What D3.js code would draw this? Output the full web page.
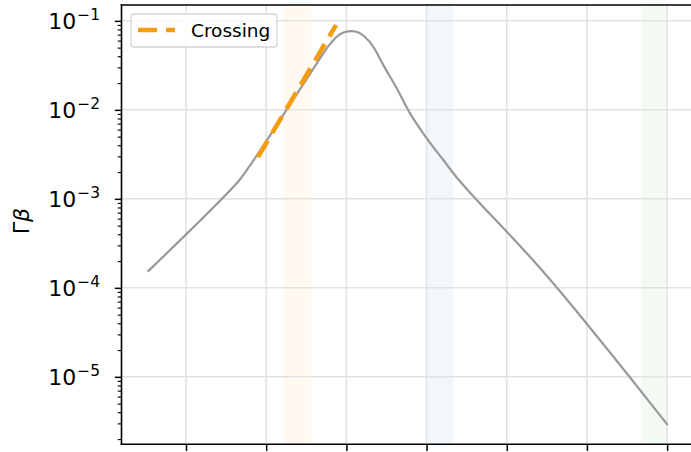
<!DOCTYPE html>
<html>
<head>
<meta charset="utf-8">
<script src="https://cdn.jsdelivr.net/npm/d3@7"></script>
<style>
body { margin: 0; background: #fff; }
text { font-family: "DejaVu Sans", sans-serif; }
</style>
</head>
<body>
<div id="chart"></div>
<script>
// data
var curveX = [0.522, 1.649, 1.761, 1.886, 2.010, 2.235, 2.422, 2.609, 2.771, 2.896, 2.983, 3.067,
              3.145, 3.233, 3.336, 3.461, 3.628, 3.794, 4.002, 4.209, 4.377, 4.626, 5.0, 5.312, 5.624,
              5.998, 6.580, 7.008];
var curveY = [1.52e-4, 1.56e-3, 2.13e-3, 3.10e-3, 4.58e-3, 9.44e-3, 0.0171, 0.0310, 0.0514, 0.0684, 0.0748, 0.0768,
              0.0743, 0.0658, 0.0511, 0.0318, 0.0175, 9.14e-3, 4.79e-3, 2.73e-3, 1.74e-3, 9.70e-4, 4.27e-4, 2.12e-4, 1.01e-4,
              3.95e-5, 8.80e-6, 2.87e-6];
var crossX = [1.898, 2.871];
var crossY = [2.95e-3, 0.0897];
var bandStart = [2.214, 4.004, 6.672];
var bandEnd = [2.568, 4.327, 7.0];
var bandColors = ["#ff9a1f", "#1f77b4", "#2cb04c"];
var xTicks = [1, 2, 3, 4, 5, 6, 7];
var yTicks = [1e-5, 1e-4, 1e-3, 1e-2, 1e-1];
var yExp = ["\u22125", "\u22124", "\u22123", "\u22122", "\u22121"];
var legendLabel = "Crossing";

var width = 691, height = 452;
var mLeft = 121.5, mTop = 5, mBottom = 444.3, mRight = 700;

var svg = d3.select("#chart").append("svg")
    .attr("width", width)
    .attr("height", height);

var x = d3.scaleLinear()
    .domain([0.1955, 7.41])
    .range([mLeft, mRight]);

var y = d3.scaleLog()
    .domain([1.746e-6, 0.1507])
    .range([mBottom, mTop]);

svg.append("clipPath").attr("id", "plot")
    .append("rect")
    .attr("x", mLeft).attr("y", mTop)
    .attr("width", mRight - mLeft).attr("height", mBottom - mTop);

var plot = svg.append("g").attr("clip-path", "url(#plot)");

// shaded bands
plot.selectAll("rect.band")
    .data(bandStart)
    .enter()
    .append("rect")
    .attr("class", "band")
    .attr("x", function(d) { return x(d); })
    .attr("width", function(d, i) { return x(bandEnd[i]) - x(d); })
    .attr("y", mTop)
    .attr("height", mBottom - mTop)
    .style("fill", function(d, i) { return bandColors[i]; })
    .style("opacity", 0.06);

// grid
plot.selectAll("line.vgrid")
    .data(xTicks)
    .enter()
    .append("line")
    .attr("x1", function(d) { return x(d); })
    .attr("x2", function(d) { return x(d); })
    .attr("y1", mTop).attr("y2", mBottom)
    .style("stroke", "#e2e2e2")
    .style("stroke-width", 1.5);

plot.selectAll("line.hgrid")
    .data(yTicks)
    .enter()
    .append("line")
    .attr("y1", function(d) { return y(d); })
    .attr("y2", function(d) { return y(d); })
    .attr("x1", mLeft).attr("x2", mRight)
    .style("stroke", "#e2e2e2")
    .style("stroke-width", 1.5);

// main curve
var pts = curveX.map(function(d, i) { return [d, curveY[i]]; });
var line = d3.line()
    .x(function(d) { return x(d[0]); })
    .y(function(d) { return y(d[1]); })
    .curve(d3.curveCatmullRom.alpha(0.5));

plot.append("path")
    .datum(pts)
    .attr("d", line)
    .style("fill", "none")
    .style("stroke", "#999999")
    .style("stroke-width", 2.2);

// crossing fit
var cross = crossX.map(function(d, i) { return [d, crossY[i]]; });
plot.append("path")
    .datum(cross)
    .attr("d", d3.line().x(function(d) { return x(d[0]); }).y(function(d) { return y(d[1]); }))
    .style("fill", "none")
    .style("stroke", "#f59d0e")
    .style("stroke-width", 4.6)
    .style("stroke-dasharray", "19,9");

// y minor ticks
var minor = [];
for (var e = -6; e <= -1; e++) {
    for (var k = 2; k <= 9; k++) {
        var v = k * Math.pow(10, e);
        if (v >= y.domain()[0] && v <= y.domain()[1]) minor.push(v);
    }
}

var yMinorAxis = d3.axisLeft(y)
    .tickValues(minor)
    .tickSize(3.8)
    .tickFormat("")
    .tickSizeOuter(0);

var yAxis = d3.axisLeft(y)
    .tickValues(yTicks)
    .tickSize(6.7)
    .tickFormat("")
    .tickSizeOuter(0);

var gMinor = svg.append("g")
    .attr("transform", "translate(" + mLeft + ",0)")
    .call(yMinorAxis);
gMinor.select(".domain").remove();
gMinor.selectAll("line").style("stroke-width", 1.15);

var gy = svg.append("g")
    .attr("transform", "translate(" + mLeft + ",0)")
    .call(yAxis);
gy.select(".domain").remove();
gy.selectAll("line").style("stroke-width", 1.5);

// y tick labels with superscripts
var lab = svg.append("g").selectAll("text")
    .data(yTicks)
    .enter()
    .append("text")
    .attr("x", 100)
    .attr("y", function(d) { return y(d) + 8; })
    .attr("text-anchor", "end")
    .style("font-size", "22px")
    .style("fill", "#000");
lab.append("tspan").text("10");
lab.append("tspan")
    .attr("dx", 1)
    .attr("dy", -9)
    .style("font-size", "15.5px")
    .text(function(d, i) { return yExp[i]; });

// x axis
var xAxis = d3.axisBottom(x)
    .tickValues(xTicks)
    .tickSize(6.7)
    .tickFormat("")
    .tickSizeOuter(0);

var gx = svg.append("g")
    .attr("transform", "translate(0," + mBottom + ")")
    .call(xAxis);
gx.select(".domain").remove();
gx.selectAll("line").style("stroke-width", 1.5);

// spines
svg.append("line")
    .attr("x1", mLeft).attr("x2", mLeft).attr("y1", mTop).attr("y2", mBottom)
    .style("stroke", "#000").style("stroke-width", 1.6).style("stroke-linecap", "square");
svg.append("line")
    .attr("x1", mLeft).attr("x2", mRight).attr("y1", mBottom).attr("y2", mBottom)
    .style("stroke", "#000").style("stroke-width", 1.6).style("stroke-linecap", "square");
svg.append("line")
    .attr("x1", mLeft).attr("x2", mRight).attr("y1", mTop).attr("y2", mTop)
    .style("stroke", "#000").style("stroke-width", 1.6).style("stroke-linecap", "square");

// y label
var yl = svg.append("text")
    .attr("transform", "translate(29,221) rotate(-90)")
    .attr("text-anchor", "middle")
    .style("font-size", "22px");
yl.append("tspan").text("\u0393");
yl.append("tspan").style("font-style", "italic").text("\u03b2");

// legend
var leg = svg.append("g");
leg.append("rect")
    .attr("x", 131).attr("y", 14)
    .attr("width", 146).attr("height", 33)
    .attr("rx", 3)
    .style("fill", "#fff")
    .style("fill-opacity", 0.8)
    .style("stroke", "#d5d5d5")
    .style("stroke-width", 1.3);
leg.append("line")
    .attr("x1", 138).attr("x2", 175).attr("y1", 30).attr("y2", 30)
    .style("stroke", "#f59d0e")
    .style("stroke-width", 4.6)
    .style("stroke-dasharray", "19,9");
leg.append("text")
    .attr("x", 191).attr("y", 37)
    .style("font-size", "18.5px")
    .text(legendLabel);
</script>
</body>
</html>
